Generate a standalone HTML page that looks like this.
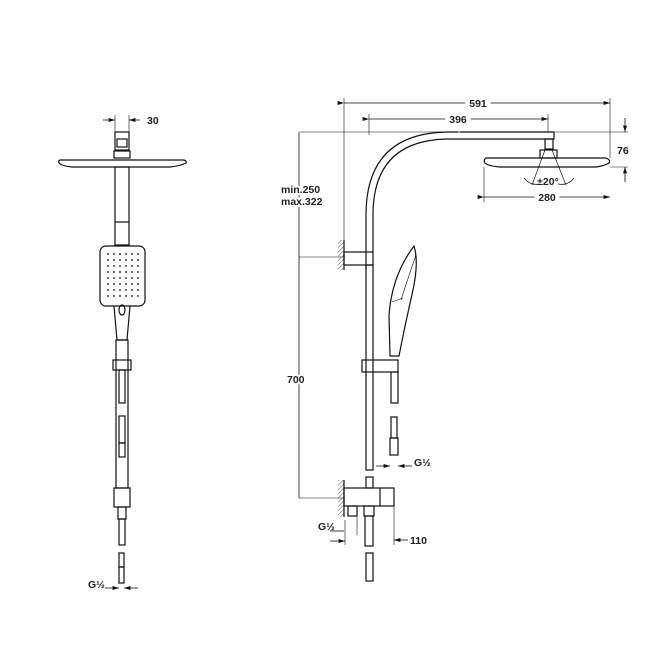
<!DOCTYPE html><html><head><style>body{margin:0;background:#fff}svg{display:block}text{font-family:"Liberation Sans",sans-serif;font-size:10.5px;font-weight:bold;fill:#222}</style></head><body>
<svg width="650" height="650" viewBox="0 0 650 650" xmlns="http://www.w3.org/2000/svg">
<defs><pattern id="h" width="3" height="3" patternUnits="userSpaceOnUse" patternTransform="rotate(45)"><line x1="0" y1="0" x2="0" y2="3" stroke="#555" stroke-width="1"/></pattern>
<marker id="a" markerWidth="8" markerHeight="6" refX="8" refY="3" orient="auto"><path d="M0,0.5 L8,3 L0,5.5" fill="#111"/></marker></defs>
<g fill="none" stroke="#111" stroke-width="1.2">
<!-- LEFT VIEW -->
<line x1="103" y1="120" x2="115" y2="120" marker-end="url(#a)" stroke-width=".8"/>
<line x1="140" y1="120" x2="129" y2="120" marker-end="url(#a)" stroke-width=".8"/>
<line x1="115" y1="115" x2="115" y2="132" stroke-width=".6"/><line x1="129" y1="115" x2="129" y2="132" stroke-width=".6"/>
<rect x="115" y="132" width="14" height="18"/><rect x="117" y="139" width="10" height="8"/>
<rect x="114" y="151" width="16" height="7"/>
<path d="M60,160 L184,160 Q187,161 186,163 Q180,166 170,167 L72,167 Q62,166 59,163 Q58,161 60,160Z"/>
<rect x="115" y="167" width="14" height="78"/><line x1="115" y1="222" x2="129" y2="222"/>
<rect x="100" y="246" width="45" height="60" rx="6"/><path d="M114,306 L117,340 L127,340 L130,306"/>
<ellipse cx="122" cy="310" rx="3" ry="5"/>
<rect x="116" y="340" width="12" height="148"/>
<rect x="113" y="360" width="18" height="10"/>
<rect x="119" y="370" width="6" height="33"/><rect x="119" y="416" width="6" height="27"/><rect x="119" y="443" width="6" height="14"/>
<rect x="114" y="488" width="16" height="19"/><rect x="118" y="507" width="8" height="12"/><rect x="119" y="519" width="6" height="26"/>
<rect x="119" y="553" width="5" height="14"/><rect x="119" y="567" width="5" height="16"/>
<line x1="105" y1="588" x2="119" y2="588" marker-end="url(#a)" stroke-width=".8"/><line x1="138" y1="588" x2="124" y2="588" marker-end="url(#a)" stroke-width=".8"/>
<!-- RIGHT VIEW -->
<line x1="344" y1="103" x2="610" y2="103" stroke-width=".8" marker-start="url(#a)" marker-end="url(#a)"/>
<line x1="369" y1="119" x2="548" y2="119" stroke-width=".8" marker-start="url(#a)" marker-end="url(#a)"/>
<line x1="344" y1="98" x2="344" y2="248" stroke-width=".6"/><line x1="369" y1="114" x2="369" y2="135" stroke-width=".6"/>
<line x1="610" y1="98" x2="610" y2="158" stroke-width=".6"/><line x1="548" y1="114" x2="548" y2="132" stroke-width=".6"/>
<path d="M366,270 L366,215 Q366,132 450,132 L554,132 L554,139 L450,139 Q373,139 373,215 L373,252"/>
<rect x="545" y="139" width="8" height="10"/><rect x="540" y="150" width="17" height="8"/>
<path d="M486,158 L606,158 Q611,160 609,163 Q604,166 596,167 L500,167 Q488,166 485,163 Q483,160 486,158Z"/>
<line x1="545" y1="150" x2="532" y2="185" stroke-width=".7"/><line x1="552" y1="150" x2="566" y2="185" stroke-width=".7"/>
<path d="M524,178 Q530,186 540,184" stroke-width=".7"/><path d="M574,178 Q568,186 558,184" stroke-width=".7"/>
<line x1="300" y1="132" x2="628" y2="132" stroke-width=".6"/><line x1="610" y1="167" x2="628" y2="167" stroke-width=".6"/>
<line x1="625" y1="118" x2="625" y2="132" marker-end="url(#a)" stroke-width=".8"/><line x1="625" y1="182" x2="625" y2="167" marker-end="url(#a)" stroke-width=".8"/>
<line x1="484" y1="167" x2="484" y2="202" stroke-width=".6"/>
<line x1="484" y1="197" x2="610" y2="197" stroke-width=".8" marker-start="url(#a)" marker-end="url(#a)"/>
<line x1="299" y1="132" x2="299" y2="498" stroke-width=".8"/>
<line x1="299" y1="257" x2="345" y2="257" stroke-width=".6"/><line x1="299" y1="498" x2="345" y2="498" stroke-width=".6"/>
<rect x="338" y="240" width="6" height="30" fill="url(#h)" stroke="none"/><line x1="344" y1="240" x2="344" y2="270"/>
<rect x="344" y="252" width="29" height="13"/>
<rect x="366" y="265" width="7" height="205"/>
<rect x="362" y="360" width="36" height="12"/>
<path d="M390,356 L389,315 Q392,275 414,246 Q419,262 413,290 Q405,325 399,356Z"/>
<path d="M401,300 Q409,275 416,255" stroke-width=".6"/><path d="M392,302 L403,298" stroke-width=".6"/>
<rect x="391" y="372" width="7" height="31"/><rect x="391" y="417" width="6" height="21"/><rect x="390" y="438" width="8" height="17"/>
<line x1="376" y1="466" x2="390" y2="466" stroke-width=".8" marker-end="url(#a)"/><line x1="412" y1="466" x2="398" y2="466" stroke-width=".8" marker-end="url(#a)"/>
<rect x="366" y="477" width="7" height="11"/>
<rect x="338" y="480" width="6" height="37" fill="url(#h)" stroke="none"/><line x1="344" y1="480" x2="344" y2="517"/>
<rect x="344" y="488" width="50" height="18"/><line x1="380" y1="488" x2="380" y2="506"/>
<rect x="348" y="506" width="9" height="10"/><rect x="364" y="506" width="10" height="10"/><rect x="365" y="516" width="8" height="30"/>
<rect x="366" y="553" width="7" height="28"/>
<line x1="345" y1="520" x2="345" y2="545" stroke-width=".6"/><line x1="357" y1="516" x2="357" y2="535" stroke-width=".6"/>
<line x1="330" y1="531" x2="344" y2="531" stroke-width=".8"/><line x1="330" y1="541" x2="345" y2="541" stroke-width=".8" marker-end="url(#a)"/>
<line x1="394" y1="506" x2="394" y2="545" stroke-width=".6"/>
<line x1="408" y1="540" x2="394" y2="540" stroke-width=".8" marker-end="url(#a)"/>
</g>
<g fill="#444">
<g id="dots"><circle cx="108" cy="254" r="1"/><circle cx="114" cy="254" r="1"/><circle cx="120" cy="254" r="1"/><circle cx="126" cy="254" r="1"/><circle cx="132" cy="254" r="1"/><circle cx="138" cy="254" r="1"/></g>
<use href="#dots" y="6"/><use href="#dots" y="12"/><use href="#dots" y="18"/><use href="#dots" y="24"/><use href="#dots" y="30"/><use href="#dots" y="36"/><use href="#dots" y="42"/>
</g>
<text x="147" y="124">30</text>
<text x="478" y="107" text-anchor="middle" style="paint-order:stroke;stroke:#fff;stroke-width:8px">591</text>
<text x="458" y="123" text-anchor="middle" style="paint-order:stroke;stroke:#fff;stroke-width:8px">396</text>
<text x="617" y="154">76</text>
<text x="547" y="201" text-anchor="middle" style="paint-order:stroke;stroke:#fff;stroke-width:8px">280</text>
<text x="548" y="185" text-anchor="middle">±20°</text>
<text x="281" y="193" style="paint-order:stroke;stroke:#fff;stroke-width:4px">min.250</text>
<text x="281" y="205" style="paint-order:stroke;stroke:#fff;stroke-width:4px">max.322</text>
<text x="287" y="383" style="paint-order:stroke;stroke:#fff;stroke-width:4px">700</text>
<text x="414" y="466">G½</text>
<text x="318" y="530">G½</text>
<text x="88" y="588">G½</text>
<text x="410" y="544">110</text>
</svg></body></html>
